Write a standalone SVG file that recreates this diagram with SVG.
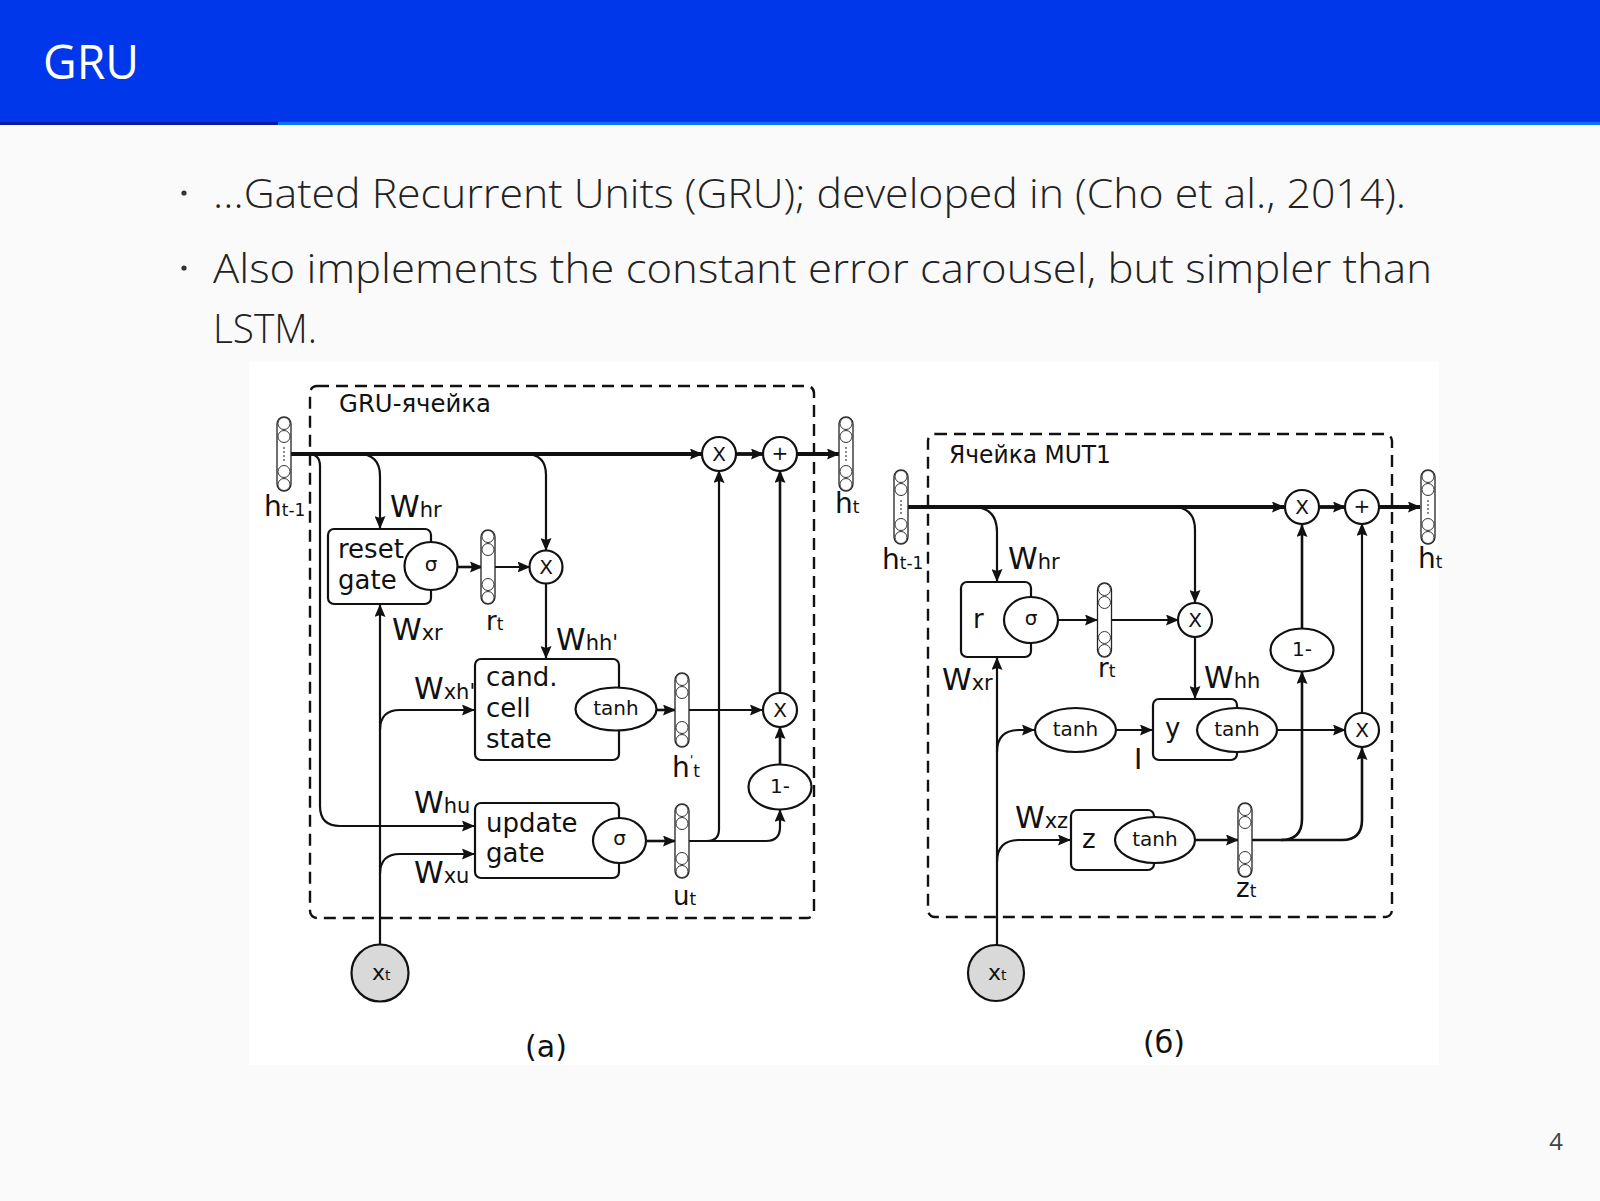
<svg xmlns="http://www.w3.org/2000/svg" xmlns:xlink="http://www.w3.org/1999/xlink" width="1600" height="1201" viewBox="0 0 1600 1201">
<style>
.body{font-family:"Open Sans","Noto Sans",sans-serif;font-size:41px;font-weight:300;fill:#222}
.d{font-family:"DejaVu Sans","Liberation Sans",sans-serif;fill:#111}
.lbl{font-size:26px}
.w{font-size:30px}
.sb{font-size:21px}
.h{font-size:28px}
.hs{font-size:17px}
.op{font-size:20px;text-anchor:middle;dominant-baseline:central}
.ln{fill:none;stroke:#111;stroke-width:2.2}
.thk{stroke-width:3.8}
.med{stroke-width:2.6}
.bx{fill:#fff;stroke:#111;stroke-width:2.2}
.fr{fill:none;stroke:#111;stroke-width:2.4;stroke-dasharray:12 7}
</style>
<defs>
<marker id="ah" viewBox="0 0 13 11" refX="12" refY="5.5" markerWidth="13" markerHeight="11" markerUnits="userSpaceOnUse" orient="auto"><path d="M0,0 L13,5.5 L0,11 L2,5.5 z" fill="#111"/></marker>
<g id="vec">
<rect x="-7" y="-37" width="14" height="74" rx="7" fill="#fff" stroke="#222" stroke-width="1.3"/>
<g fill="#fff" stroke="#333" stroke-width="1"><circle cx="0" cy="-30.5" r="6"/><circle cx="0" cy="-17.5" r="6"/><circle cx="0" cy="17.5" r="6"/><circle cx="0" cy="30.5" r="6"/></g>
</g>
<g id="vecd">
<use xlink:href="#vec"/>
<g fill="#555"><circle cx="0" cy="-6" r="0.9"/><circle cx="0" cy="-2" r="0.9"/><circle cx="0" cy="2" r="0.9"/><circle cx="0" cy="6" r="0.9"/></g>
</g>
</defs>

<rect x="0" y="0" width="1600" height="1201" fill="#fafafa"/>
<g id="header">
<rect x="0" y="0" width="1600" height="122" fill="#0037ea"/>
<rect x="0" y="122" width="278" height="3" fill="#0b1ba3"/>
<rect x="278" y="122" width="1322" height="3" fill="#0a74f4"/>
<text x="43" y="79" font-family="'Open Sans','Noto Sans',sans-serif" font-size="48" fill="#fff" textLength="96" lengthAdjust="spacingAndGlyphs">GRU</text>
</g>
<g id="bullets">
<circle cx="184" cy="193" r="2.6" fill="#333"/>
<text class="body" x="213" y="208" textLength="1193" lengthAdjust="spacingAndGlyphs">…Gated Recurrent Units (GRU); developed in (Cho et al., 2014).</text>
<circle cx="184" cy="268" r="2.6" fill="#333"/>
<text class="body" x="213" y="283" textLength="1219" lengthAdjust="spacingAndGlyphs">Also implements the constant error carousel, but simpler than</text>
<text class="body" x="213" y="343" textLength="104" lengthAdjust="spacingAndGlyphs">LSTM.</text>
</g>
<text x="1556" y="1150" font-family="'Open Sans','Noto Sans',sans-serif" font-size="24" fill="#444" text-anchor="middle">4</text>

<rect id="figure-bg" x="249" y="362" width="1190" height="703" fill="#fff"/>

<!-- frames -->
<g id="frame-a">
<rect class="fr" x="310" y="386" width="504" height="532" rx="7"/>
<text class="d" x="339" y="412" font-size="25" textLength="152" lengthAdjust="spacingAndGlyphs">GRU-ячейка</text>
</g>
<g id="frame-b">
<rect class="fr" x="928" y="434" width="464" height="483" rx="7"/>
<text class="d" x="949" y="463" font-size="25" textLength="162" lengthAdjust="spacingAndGlyphs">Ячейка MUT1</text>
</g>

<!-- connectors -->
<g id="connectors" marker-end="url(#ah)">
<!-- (a) -->
<path class="ln thk" d="M291,454 H702"/>
<path class="ln thk" d="M736,454 H763"/>
<path class="ln thk" d="M797,454 H839"/>
<path class="ln" d="M308,454 Q320,454 320,466 V806 Q320,826 340,826 H474"/>
<path class="ln" d="M358,454 Q380,454 380,476 V528"/>
<path class="ln" d="M525,454 Q546,454 546,475 V550"/>
<path class="ln med" d="M457,567 H482"/>
<path class="ln" d="M494.5,567 H529.5"/>
<path class="ln" d="M546,583.5 V658"/>
<path class="ln" d="M380,945 V605"/>
<path class="ln" d="M380,730 Q380,710 400,710 H474"/>
<path class="ln" d="M380,874 Q380,854 400,854 H474"/>
<path class="ln med" d="M657,710 H675"/>
<path class="ln" d="M689,710 H762"/>
<path class="ln med" d="M780,693 V471"/>
<path class="ln med" d="M780,764.5 V727"/>
<path class="ln med" d="M646,841 H675"/>
<path class="ln" d="M689,841 H707 Q719,841 719,829 V471"/>
<path class="ln" d="M707,841 H766 Q780,841 780,827 V810"/>
<!-- (b) -->
<path class="ln thk" d="M908,507 H1284"/>
<path class="ln thk" d="M1319,507 H1345"/>
<path class="ln thk" d="M1379,507 H1420"/>
<path class="ln" d="M972,507 Q997,507 997,532 V581"/>
<path class="ln" d="M1172,507 Q1195,507 1195,530 V602"/>
<path class="ln" d="M1058,620 H1097"/>
<path class="ln" d="M1112,620 H1178"/>
<path class="ln" d="M1195,637 V698"/>
<path class="ln" d="M997,945 V658"/>
<path class="ln" d="M997,752 Q997,730 1019,730 H1034"/>
<path class="ln" d="M1116,730 H1152"/>
<path class="ln" d="M1277,730 H1345"/>
<path class="ln" d="M1362,713 V524"/>
<path class="ln" d="M997,862 Q997,840 1019,840 H1070"/>
<path class="ln med" d="M1195,840 H1238"/>
<path class="ln med" d="M1252,840 H1281 Q1302,840 1302,819 V672"/>
<path class="ln med" d="M1281,840 H1342 Q1362,840 1362,820 V748"/>
<path class="ln med" d="M1302,628.5 V525"/>
</g>

<!-- nodes (a) -->
<g id="a-h-prev"><use xlink:href="#vecd" x="284" y="454"/><text class="d h" x="264" y="516">h<tspan class="hs">t-1</tspan></text></g>
<g id="a-h-t"><use xlink:href="#vecd" x="846" y="454"/><text class="d h" x="835" y="513">h<tspan class="hs">t</tspan></text></g>
<g id="a-reset-gate">
<rect class="bx" x="328" y="529" width="103" height="75" rx="6"/>
<ellipse class="bx" cx="431" cy="566" rx="26.5" ry="24"/>
<text class="d lbl" x="338" y="558">reset</text>
<text class="d lbl" x="338" y="589">gate</text>
<text class="d op" x="431" y="564" font-size="22">σ</text>
</g>
<g id="a-r-t"><use xlink:href="#vec" x="488" y="567"/><text class="d lbl" x="486" y="630">r<tspan class="hs">t</tspan></text></g>
<g id="a-mul-r"><circle class="bx" cx="546" cy="567" r="16.5"/><text class="d op" x="546" y="567">X</text></g>
<g id="a-cand">
<rect class="bx" x="475" y="659" width="144" height="101" rx="6"/>
<ellipse class="bx" cx="616" cy="709" rx="40.5" ry="21.5"/>
<text class="d lbl" x="486" y="686">cand.</text>
<text class="d lbl" x="486" y="717">cell</text>
<text class="d lbl" x="486" y="748">state</text>
<text class="d op" x="616" y="708">tanh</text>
</g>
<g id="a-h-cand"><use xlink:href="#vec" x="682" y="710"/><text class="d h" x="672" y="777">h<tspan font-size="13" dy="-13">'</tspan><tspan class="hs" dy="13">t</tspan></text></g>
<g id="a-update">
<rect class="bx" x="475" y="803" width="144" height="75" rx="6"/>
<ellipse class="bx" cx="619.5" cy="840.5" rx="26.5" ry="22.5"/>
<text class="d lbl" x="486" y="832">update</text>
<text class="d lbl" x="486" y="862">gate</text>
<text class="d op" x="619.5" y="838" font-size="22">σ</text>
</g>
<g id="a-u-t"><use xlink:href="#vec" x="682" y="841"/><text class="d lbl" x="673" y="905">u<tspan class="hs">t</tspan></text></g>
<g id="a-mul-top"><circle class="bx" cx="719" cy="454" r="17"/><text class="d op" x="719" y="454">X</text></g>
<g id="a-plus"><circle class="bx" cx="780" cy="454" r="17"/><text class="d op" x="780" y="453" font-size="22">+</text></g>
<g id="a-mul-bot"><circle class="bx" cx="780" cy="710" r="17"/><text class="d op" x="780" y="710">X</text></g>
<g id="a-one-minus"><ellipse class="bx" cx="780" cy="787" rx="31.5" ry="22.5"/><text class="d op" x="780" y="786" font-size="17">1-</text></g>
<g id="a-x-t"><circle cx="380" cy="973" r="28.5" fill="#d9d9d9" stroke="#111" stroke-width="2.2"/><text class="d" x="372" y="980" font-size="22">x<tspan font-size="14">t</tspan></text></g>
<g id="a-weights" class="d">
<text class="w" x="390" y="517">W<tspan class="sb">hr</tspan></text>
<text class="w" x="392" y="640">W<tspan class="sb">xr</tspan></text>
<text class="w" x="556" y="650">W<tspan class="sb">hh'</tspan></text>
<text class="w" x="414" y="699">W<tspan class="sb">xh'</tspan></text>
<text class="w" x="414" y="813">W<tspan class="sb">hu</tspan></text>
<text class="w" x="414" y="883">W<tspan class="sb">xu</tspan></text>
</g>
<text id="caption-a" class="d" x="546" y="1057" font-size="30" text-anchor="middle">(а)</text>

<!-- nodes (b) -->
<g id="b-h-prev"><use xlink:href="#vecd" x="901" y="507"/><text class="d h" x="882" y="569">h<tspan class="hs">t-1</tspan></text></g>
<g id="b-h-t"><use xlink:href="#vecd" x="1428" y="507"/><text class="d h" x="1418" y="568">h<tspan class="hs">t</tspan></text></g>
<g id="b-r-gate">
<rect class="bx" x="961" y="582" width="70" height="75" rx="6"/>
<ellipse class="bx" cx="1031" cy="620" rx="27" ry="23"/>
<text class="d lbl" x="973" y="628">r</text>
<text class="d op" x="1031" y="618" font-size="22">σ</text>
</g>
<g id="b-r-t"><use xlink:href="#vec" x="1104.5" y="620"/><text class="d lbl" x="1098" y="677">r<tspan class="hs">t</tspan></text></g>
<g id="b-mul-r"><circle class="bx" cx="1195" cy="620" r="17"/><text class="d op" x="1195" y="620">X</text></g>
<g id="b-one-minus"><ellipse class="bx" cx="1302" cy="650" rx="31.5" ry="21.5"/><text class="d op" x="1302" y="649" font-size="17">1-</text></g>
<g id="b-mul-top"><circle class="bx" cx="1302" cy="507" r="17"/><text class="d op" x="1302" y="507">X</text></g>
<g id="b-plus"><circle class="bx" cx="1362" cy="507" r="17"/><text class="d op" x="1362" y="506" font-size="22">+</text></g>
<g id="b-mul-bot"><circle class="bx" cx="1362" cy="730" r="17"/><text class="d op" x="1362" y="730">X</text></g>
<g id="b-tanh-x"><ellipse class="bx" cx="1075.5" cy="730" rx="40.5" ry="22"/><text class="d op" x="1075.5" y="729">tanh</text></g>
<text id="b-mark" class="d" x="1134" y="769" font-size="28" font-family="'Liberation Sans',sans-serif">I</text>
<g id="b-y">
<rect class="bx" x="1153" y="699" width="84" height="61" rx="6"/>
<ellipse class="bx" cx="1237" cy="730" rx="40" ry="22"/>
<text class="d lbl" x="1165" y="737">y</text>
<text class="d op" x="1237" y="729">tanh</text>
</g>
<g id="b-z">
<rect class="bx" x="1071" y="810" width="83" height="60" rx="6"/>
<ellipse class="bx" cx="1155" cy="840" rx="40" ry="23"/>
<text class="d lbl" x="1082" y="848">z</text>
<text class="d op" x="1155" y="839">tanh</text>
</g>
<g id="b-z-t"><use xlink:href="#vec" x="1245" y="840"/><text class="d lbl" x="1236" y="897">z<tspan class="hs">t</tspan></text></g>
<g id="b-x-t"><circle cx="996" cy="973" r="28" fill="#d9d9d9" stroke="#111" stroke-width="2.2"/><text class="d" x="988" y="980" font-size="22">x<tspan font-size="14">t</tspan></text></g>
<g id="b-weights" class="d">
<text class="w" x="1008" y="569">W<tspan class="sb">hr</tspan></text>
<text class="w" x="942" y="690">W<tspan class="sb">xr</tspan></text>
<text class="w" x="1204" y="688">W<tspan class="sb">hh</tspan></text>
<text class="w" x="1015" y="828">W<tspan class="sb">xz</tspan></text>
</g>
<text id="caption-b" class="d" x="1164" y="1053" font-size="30" text-anchor="middle">(б)</text>
</svg>
